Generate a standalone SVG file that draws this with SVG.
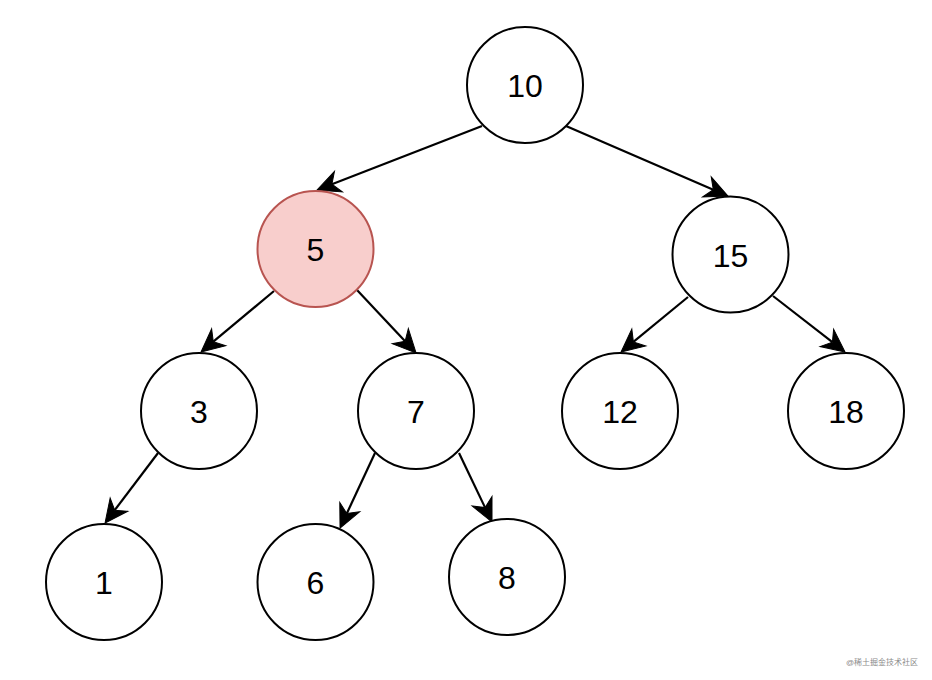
<svg xmlns="http://www.w3.org/2000/svg" width="932" height="680" viewBox="0 0 932 680">
<style>
.n{fill:#fff;stroke:#000;stroke-width:2}
.hl{fill:#f8cecc;stroke:#b85450;stroke-width:2}
.t{font-family:"Liberation Sans",Arial,sans-serif;font-size:32px;fill:#000;text-anchor:middle;dominant-baseline:central}
.e{fill:none;stroke:#000;stroke-width:2.2;marker-end:url(#arr)}
.wm{font-family:"Liberation Sans","Noto Sans CJK SC",sans-serif;font-size:8px;fill:#8a8a8a;text-anchor:end}
</style>
<defs>
<marker id="arr" markerUnits="userSpaceOnUse" orient="auto" refX="0" refY="0" markerWidth="40" markerHeight="40" overflow="visible">
<path d="M16,0 L-7,-11 L0,0 L-7,11 Z" fill="#000" stroke="#000" stroke-width="1"/>
</marker>
</defs>
<rect width="932" height="680" fill="#fff"/>
<g id="edges">
<path class="e" d="M482,126 L331.9,184.2"/>
<path class="e" d="M566,126 L713.3,189.7"/>
<path class="e" d="M274,291 L213.3,341.7"/>
<path class="e" d="M357,290 L405.1,341.3"/>
<path class="e" d="M688,297 L633.4,341.9"/>
<path class="e" d="M773,296 L832.4,342.2"/>
<path class="e" d="M158,453 L114.7,510.2"/>
<path class="e" d="M375,453 L346.8,513.5"/>
<path class="e" d="M459,453 L485.1,507.6"/>
</g>
<g id="n10"><circle class="n" cx="525" cy="85" r="58"/><text class="t" x="525" y="86">10</text></g>
<g id="n5"><circle class="hl" cx="315.5" cy="249" r="58"/><text class="t" x="315.5" y="250">5</text></g>
<g id="n15"><circle class="n" cx="730.5" cy="254.5" r="58"/><text class="t" x="730.5" y="256">15</text></g>
<g id="n3"><circle class="n" cx="199" cy="411" r="58"/><text class="t" x="199" y="412">3</text></g>
<g id="n7"><circle class="n" cx="416" cy="411" r="58"/><text class="t" x="416" y="412">7</text></g>
<g id="n12"><circle class="n" cx="620" cy="411" r="58"/><text class="t" x="620" y="412">12</text></g>
<g id="n18"><circle class="n" cx="846" cy="411" r="58"/><text class="t" x="846" y="412">18</text></g>
<g id="n1"><circle class="n" cx="104" cy="582" r="58"/><text class="t" x="104" y="583">1</text></g>
<g id="n6"><circle class="n" cx="315.5" cy="582" r="58"/><text class="t" x="315.5" y="583">6</text></g>
<g id="n8"><circle class="n" cx="507" cy="577" r="58"/><text class="t" x="507" y="578">8</text></g>
<text class="wm" x="918" y="665">@稀土掘金技术社区</text>
</svg>
